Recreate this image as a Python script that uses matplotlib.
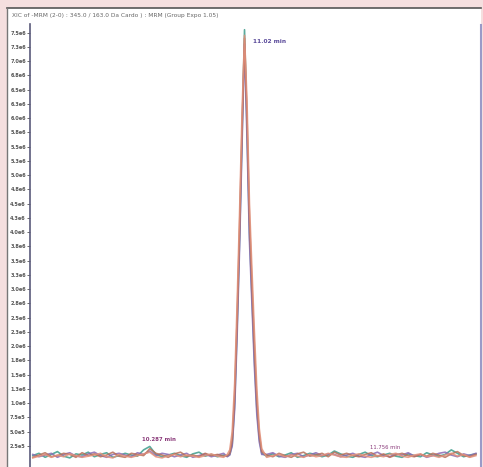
import numpy as np
import matplotlib
matplotlib.use("Agg")
import matplotlib.pyplot as plt
from matplotlib.patches import Rectangle

W, H = 483, 467

# ---- data (intensity in units of 1e6 counts, time in min) ----
t_left = [9.30, 9.35, 9.40, 9.45, 9.50, 9.55, 9.60, 9.65, 9.70, 9.75, 9.80, 9.85,
          9.90, 9.95, 10.00, 10.05, 10.10, 10.15, 10.20, 10.25, 10.30, 10.35, 10.40,
          10.45, 10.50, 10.55, 10.60, 10.65, 10.70, 10.75, 10.80, 10.85]
t_peak = [10.88, 10.90, 10.92, 10.94, 10.96, 10.98, 11.00, 11.02, 11.04, 11.06,
          11.08, 11.10, 11.12, 11.14, 11.16]
t_right = [11.20, 11.25, 11.30, 11.35, 11.40, 11.45, 11.50, 11.55, 11.60, 11.65,
           11.70, 11.75, 11.80, 11.85, 11.90, 11.95, 12.00, 12.05, 12.10, 12.15,
           12.20, 12.25, 12.30, 12.35, 12.40, 12.45, 12.50, 12.55, 12.60, 12.65,
           12.70, 12.75, 12.80, 12.85, 12.90]

teal_left = [0.08, 0.12, 0.05, 0.10, 0.15, 0.07, 0.04, 0.11, 0.09, 0.14, 0.06, 0.10,
             0.13, 0.05, 0.08, 0.12, 0.09, 0.07, 0.18, 0.24, 0.10, 0.06, 0.09, 0.12,
             0.08, 0.05, 0.11, 0.14, 0.07, 0.10, 0.06, 0.09]
teal_peak = [0.07, 0.10, 0.28, 1.00, 2.35, 3.90, 5.70, 7.55, 5.85, 4.00, 2.90,
             1.80, 0.90, 0.38, 0.12]
teal_right = [0.07, 0.11, 0.06, 0.09, 0.13, 0.05, 0.08, 0.12, 0.10, 0.06, 0.09,
              0.16, 0.11, 0.07, 0.05, 0.10, 0.14, 0.08, 0.06, 0.09, 0.12, 0.07,
              0.05, 0.11, 0.08, 0.06, 0.13, 0.09, 0.07, 0.10, 0.18, 0.12, 0.06,
              0.09, 0.11]

red_left = [0.05, 0.09, 0.13, 0.06, 0.08, 0.12, 0.10, 0.05, 0.13, 0.08, 0.11, 0.06,
            0.09, 0.14, 0.07, 0.05, 0.12, 0.10, 0.08, 0.20, 0.12, 0.09, 0.05, 0.11,
            0.14, 0.07, 0.09, 0.06, 0.12, 0.08, 0.10, 0.07]
red_peak = [0.08, 0.12, 0.35, 1.15, 2.50, 4.10, 5.85, 7.40, 6.05, 4.25, 3.10,
            2.00, 1.05, 0.45, 0.15]
red_right = [0.09, 0.06, 0.12, 0.08, 0.05, 0.11, 0.14, 0.07, 0.09, 0.12, 0.06,
             0.14, 0.09, 0.12, 0.08, 0.06, 0.10, 0.13, 0.07, 0.11, 0.05, 0.09,
             0.12, 0.08, 0.06, 0.10, 0.07, 0.12, 0.09, 0.05, 0.11, 0.15, 0.08,
             0.06, 0.10]

purple_left = [0.10, 0.06, 0.09, 0.12, 0.05, 0.10, 0.13, 0.07, 0.06, 0.11, 0.14,
               0.08, 0.05, 0.10, 0.12, 0.09, 0.06, 0.13, 0.10, 0.16, 0.08, 0.12,
               0.10, 0.06, 0.09, 0.12, 0.05, 0.08, 0.11, 0.06, 0.09, 0.12]
purple_peak = [0.06, 0.09, 0.25, 0.90, 2.20, 3.75, 5.55, 7.30, 5.65, 3.85, 2.75,
               1.65, 0.80, 0.32, 0.10]
purple_right = [0.10, 0.13, 0.07, 0.05, 0.10, 0.12, 0.06, 0.09, 0.13, 0.08, 0.11,
                0.10, 0.06, 0.09, 0.12, 0.07, 0.05, 0.10, 0.14, 0.08, 0.06, 0.11,
                0.09, 0.13, 0.07, 0.10, 0.05, 0.08, 0.12, 0.14, 0.09, 0.06, 0.11,
                0.08, 0.12]

orange_left = [0.04, 0.07, 0.10, 0.05, 0.09, 0.06, 0.11, 0.08, 0.05, 0.07, 0.09,
               0.12, 0.06, 0.04, 0.10, 0.07, 0.05, 0.08, 0.11, 0.14, 0.06, 0.04,
               0.08, 0.10, 0.06, 0.09, 0.07, 0.05, 0.08, 0.11, 0.07, 0.05]
orange_peak = [0.10, 0.18, 0.50, 1.35, 2.75, 4.35, 6.10, 7.45, 6.30, 4.50, 3.35,
               2.25, 1.25, 0.55, 0.20]
orange_right = [0.05, 0.08, 0.10, 0.06, 0.09, 0.07, 0.05, 0.10, 0.06, 0.08, 0.12,
                0.09, 0.06, 0.05, 0.09, 0.11, 0.07, 0.05, 0.08, 0.06, 0.10, 0.12,
                0.07, 0.05, 0.09, 0.11, 0.06, 0.08, 0.05, 0.09, 0.12, 0.07, 0.10,
                0.05, 0.08]

peak_labels = ["11.02 min", "10.287 min", "11.756 min"]
peak_times = [11.02, 10.287, 11.756]
peak_heights = [7.55, 0.24, 0.16]

y_ticks = [7.5, 7.25, 7.0, 6.75, 6.5, 6.25, 6.0, 5.75, 5.5, 5.25, 5.0, 4.75, 4.5,
           4.25, 4.0, 3.75, 3.5, 3.25, 3.0, 2.75, 2.5, 2.25, 2.0, 1.75, 1.5, 1.25,
           1.0, 0.75, 0.5, 0.25]
y_tick_labels = ["7.5e6", "7.3e6", "7.0e6", "6.8e6", "6.5e6", "6.3e6", "6.0e6",
                 "5.8e6", "5.5e6", "5.3e6", "5.0e6", "4.8e6", "4.5e6", "4.3e6",
                 "4.0e6", "3.8e6", "3.5e6", "3.3e6", "3.0e6", "2.8e6", "2.5e6",
                 "2.3e6", "2.0e6", "1.8e6", "1.5e6", "1.3e6", "1.0e6", "7.5e5",
                 "5.0e5", "2.5e5"]

title = "XIC of -MRM (2-0) : 345.0 / 163.0 Da Cardo ) : MRM (Group Expo 1.05)"

# ---- figure ----
fig = plt.figure(figsize=(W / 100, H / 100), dpi=100, facecolor="#f5dfdf")

# white panel
fig.patches.append(Rectangle((7 / W, 0), (481 - 7) / W, (H - 8) / H,
                             transform=fig.transFigure, facecolor="white",
                             edgecolor="none", zorder=-5))
fig.lines.append(plt.Line2D([7 / W, 481 / W], [1 - 8 / H, 1 - 8 / H],
                            transform=fig.transFigure, color="#555555", lw=1.2,
                            zorder=-4))
fig.lines.append(plt.Line2D([7 / W, 7 / W], [0, 1 - 8 / H],
                            transform=fig.transFigure, color="#777777", lw=1.0,
                            zorder=-4))
fig.lines.append(plt.Line2D([481 / W, 481 / W], [0, 1 - 25 / H],
                            transform=fig.transFigure, color="#9a9ac8", lw=1.5,
                            zorder=-4))

ax = fig.add_axes([30 / W, 0, (478 - 30) / W, 1 - 24 / H])
ax.set_zorder(2)
ax.set_facecolor("none")
ax.set_xlim(9.277, 12.917)
ax.set_ylim(-0.12, 7.65)

series = [
    (teal_left + teal_peak + teal_right, "#3d9c8c"),
    (purple_left + purple_peak + purple_right, "#8a6bb5"),
    (red_left + red_peak + red_right, "#b8705a"),
    (orange_left + orange_peak + orange_right, "#e2907a"),
]
t_all = t_left + t_peak + t_right
for vals, col in series:
    ax.plot(t_all, vals, color=col, lw=1.2, alpha=0.85)

for s in ["top", "right", "bottom"]:
    ax.spines[s].set_visible(False)
ax.spines["left"].set_color("#5a5a7a")
ax.spines["left"].set_linewidth(1.2)
ax.set_xticks([])
ax.set_yticks(y_ticks)
ax.set_yticklabels(y_tick_labels, fontsize=3.6, color="#444444", fontweight="bold")
ax.tick_params(axis="y", length=2, width=0.6, pad=1, colors="#555555")

# peak annotations
ax.text(peak_times[0] + 0.07, peak_heights[0] - 0.2, peak_labels[0],
        fontsize=4.2, color="#5a4a9a", fontweight="bold", va="center")
ax.text(peak_times[1] + 0.04, peak_heights[1] + 0.12, peak_labels[1],
        fontsize=3.9, color="#8a3a7a", fontweight="bold", va="center", ha="center")
ax.text(peak_times[2] + 0.405, peak_heights[2] + 0.07, peak_labels[2],
        fontsize=3.8, color="#8a3a7a", va="center", ha="center")

fig.text(12 / W, 1 - 16 / H, title, fontsize=4.2, color="#666666", va="center")

fig.savefig("out.png", dpi=100, facecolor=fig.get_facecolor())
